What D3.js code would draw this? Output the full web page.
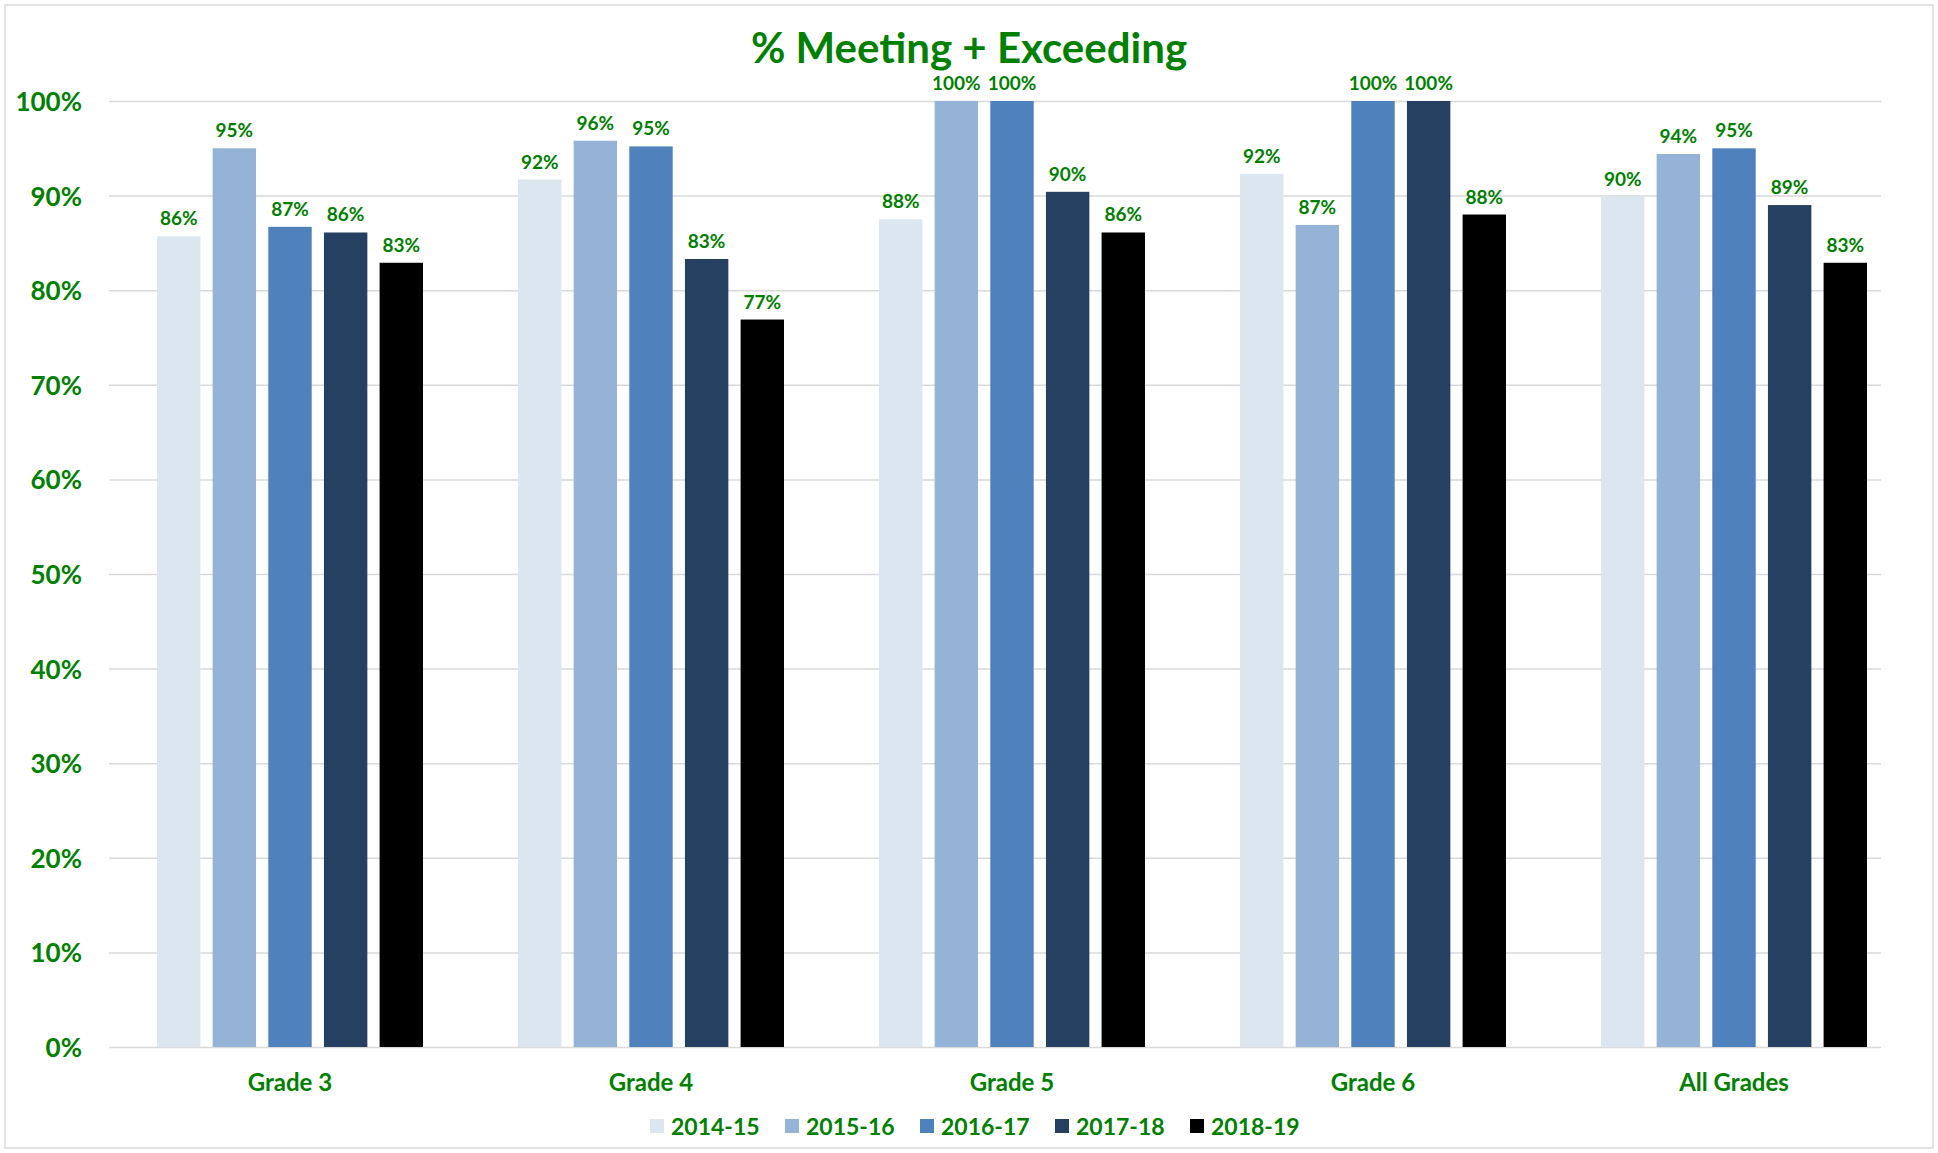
<!DOCTYPE html>
<html>
<head>
  <meta charset="UTF-8">
  <title>% Meeting + Exceeding</title>
  <script src="https://d3js.org/d3.v7.min.js"></script>
  <style>
    body { margin: 0; background: #fff; }
    text { font-family: Lato, "Open Sans", sans-serif; font-weight: bold; fill: #008000; }
    .grid line { stroke: #d9d9d9; stroke-width: 1.5; }
    .grid path { display: none; }
  </style>
</head>
<body>
  <div id="chart"></div>
  <script>
    // data
    var grades = ["Grade 3", "Grade 4", "Grade 5", "Grade 6", "All Grades"];
    var years = ["2014-15", "2015-16", "2016-17", "2017-18", "2018-19"];
    var y2014 = [85.7, 91.7, 87.5, 92.3, 89.9];
    var y2015 = [95.0, 95.8, 100, 86.9, 94.4];
    var y2016 = [86.7, 95.2, 100, 100, 95.0];
    var y2017 = [86.1, 83.3, 90.4, 100, 89.0];
    var y2018 = [82.9, 76.9, 86.1, 88.0, 82.9];
    var yTicks = [0, 10, 20, 30, 40, 50, 60, 70, 80, 90, 100];
    var colors = ["#dce6f1", "#95b3d7", "#4f81bd", "#254061", "#000000"];

    var series = [y2014, y2015, y2016, y2017, y2018];

    var W = 1938, H = 1153;
    var svg = d3.select("#chart").append("svg")
      .attr("width", W)
      .attr("height", H);

    // chart frame
    svg.append("rect")
      .attr("x", 5).attr("y", 5)
      .attr("width", W - 10).attr("height", H - 10)
      .attr("fill", "#fff")
      .attr("stroke", "#d9d9d9")
      .attr("stroke-width", 1.5);

    svg.append("text")
      .attr("x", 969).attr("y", 47)
      .attr("text-anchor", "middle")
      .attr("dominant-baseline", "central")
      .attr("font-size", 42)
      .text("% Meeting + Exceeding");

    // plot spans 109..1881 for gridlines; groups are spaced a little wider
    var x0 = d3.scaleBand().domain(grades).range([109.5, 1914.5]);
    var x1 = d3.scaleBand().domain(years)
      .range([47.5, x0.bandwidth() - 47.5])
      .paddingInner(0.22);
    var y = d3.scaleLinear().domain([0, 100]).range([1047, 101]);

    // gridlines
    svg.append("g")
      .attr("class", "grid")
      .attr("transform", "translate(109,0)")
      .call(d3.axisLeft(y).tickValues(yTicks).tickSize(-(1881 - 109)).tickFormat(""));

    // y labels
    svg.append("g").selectAll("text")
      .data(yTicks)
      .enter().append("text")
      .attr("x", 82)
      .attr("y", function (d) { return y(d); })
      .attr("text-anchor", "end")
      .attr("dominant-baseline", "central")
      .attr("font-size", 26)
      .text(function (d) { return d + "%"; });

    // bars
    var groups = svg.append("g").selectAll("g")
      .data(grades)
      .enter().append("g")
      .attr("transform", function (d) { return "translate(" + x0(d) + ",0)"; });

    groups.selectAll("rect")
      .data(function (g, gi) { return years.map(function (yr, si) { return { yr: yr, v: series[si][gi], c: colors[si] }; }); })
      .enter().append("rect")
      .attr("x", function (d) { return x1(d.yr); })
      .attr("y", function (d) { return y(d.v); })
      .attr("width", x1.bandwidth())
      .attr("height", function (d) { return y(0) - y(d.v); })
      .attr("fill", function (d) { return d.c; });

    groups.selectAll("text")
      .data(function (g, gi) { return years.map(function (yr, si) { return { yr: yr, v: series[si][gi] }; }); })
      .enter().append("text")
      .attr("x", function (d) { return x1(d.yr) + x1.bandwidth() / 2; })
      .attr("y", function (d) { return y(d.v) - 11; })
      .attr("text-anchor", "middle")
      .attr("font-size", 19)
      .text(function (d) { return Math.round(d.v) + "%"; });

    // category labels
    svg.append("g").selectAll("text")
      .data(grades)
      .enter().append("text")
      .attr("x", function (d) { return x0(d) + x0.bandwidth() / 2; })
      .attr("y", 1081)
      .attr("text-anchor", "middle")
      .attr("dominant-baseline", "central")
      .attr("font-size", 24)
      .text(function (d) { return d; });

    // legend
    var legend = svg.append("g").selectAll("g")
      .data(years)
      .enter().append("g")
      .attr("transform", function (d, i) { return "translate(" + (650 + i * 135) + ",1126)"; });
    legend.append("rect")
      .attr("x", 0).attr("y", -7)
      .attr("width", 14).attr("height", 14)
      .attr("fill", function (d, i) { return colors[i]; });
    legend.append("text")
      .attr("x", 21).attr("y", 0)
      .attr("dominant-baseline", "central")
      .attr("font-size", 23)
      .text(function (d) { return d; });
  </script>
</body>
</html>
